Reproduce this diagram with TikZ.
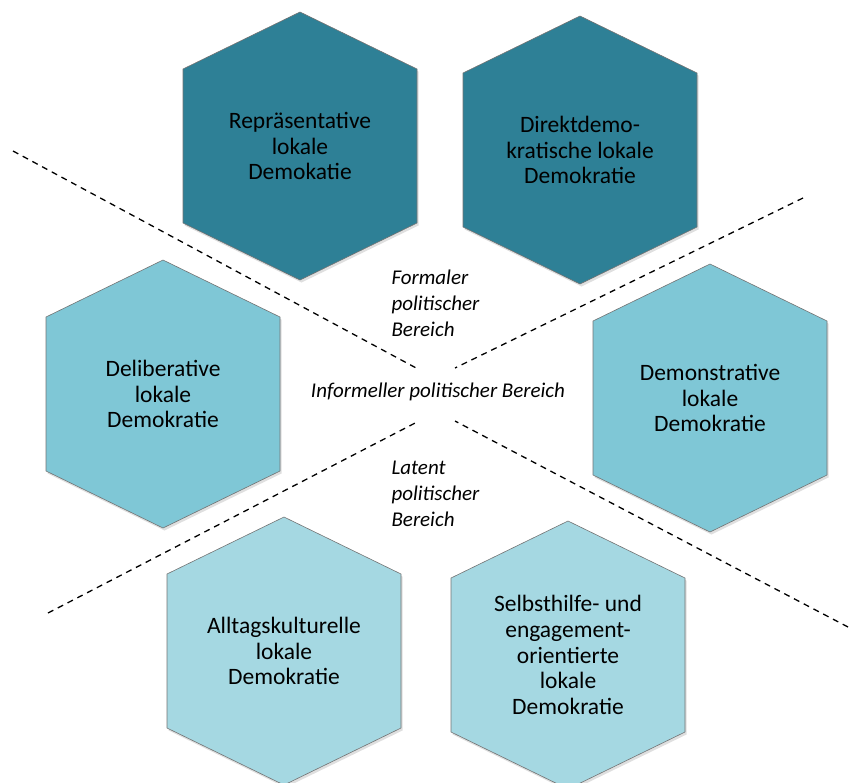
\documentclass[tikz,border=0pt]{standalone}
\usepackage{fontspec}
\setmainfont{Carlito}
\usetikzlibrary{shadows}

\definecolor{formal}{RGB}{46,128,150}
\definecolor{mittel}{RGB}{127,199,214}
\definecolor{latent}{RGB}{165,216,226}

\begin{document}
\begin{tikzpicture}[x=1pt,y=-1pt,
  hexa/.style={draw=black!55,line width=0.6pt,
    drop shadow={opacity=0.25,shadow xshift=1.5pt,shadow yshift=-2.5pt}},
  hexlabel/.style={align=center,font=\fontsize{23.5}{25.6}\selectfont},
  area/.style={align=left,font=\fontsize{21}{26}\selectfont\itshape},
  grenze/.style={dash pattern=on 6pt off 5pt,line width=1.3pt}]
\useasboundingbox (0,0) rectangle (850,782);
\clip (0,0) rectangle (850,782);

% Hexagone: Mittelpunkt / Farbe
\foreach \cx/\cy/\farbe/\name in {300/146/formal/rep, 580/150/formal/dir,
    163/394/mittel/del, 710/398/mittel/dem,
    284/651/latent/all, 568/655/latent/sel}
{
  \coordinate (\name) at (\cx,\cy);
  \path[hexa,fill=\farbe] (\cx,\cy-134) -- (\cx+117,\cy-77) -- (\cx+117,\cy+77)
    -- (\cx,\cy+134) -- (\cx-117,\cy+77) -- (\cx-117,\cy-77) -- cycle;
}

\node[hexlabel] (reptext) at (rep) {Repräsentative\\lokale\\Demokatie};
\node[hexlabel] (dirtext) at (dir) {Direktdemo-\\kratische lokale\\Demokratie};
\node[hexlabel] (deltext) at (del) {Deliberative\\lokale\\Demokratie};
\node[hexlabel] (demtext) at (dem) {Demonstrative\\lokale\\Demokratie};
\node[hexlabel] (alltext) at (all) {Alltagskulturelle\\lokale\\Demokratie};
\node[hexlabel] (seltext) at (sel) {Selbsthilfe- und\\engagement-\\orientierte\\lokale\\Demokratie};

% Bereiche
\node[area,anchor=west] (formaler) at (388,303) {Formaler\\politischer\\Bereich};
\node[area] (informell) at (438,392) {Informeller politischer Bereich};
\node[area,anchor=west] (latentb) at (388,494) {Latent\\politischer\\Bereich};

% Grenzlinien
\coordinate (a1) at (13,151);  \coordinate (a2) at (418,369);
\coordinate (b1) at (803,198); \coordinate (b2) at (455,368);
\coordinate (c1) at (48,613);  \coordinate (c2) at (419,421);
\coordinate (d1) at (848,627); \coordinate (d2) at (455,421);
\draw[grenze] (a1) -- (a2);
\draw[grenze] (b1) -- (b2);
\draw[grenze] (c1) -- (c2);
\draw[grenze] (d1) -- (d2);
\end{tikzpicture}
\end{document}
